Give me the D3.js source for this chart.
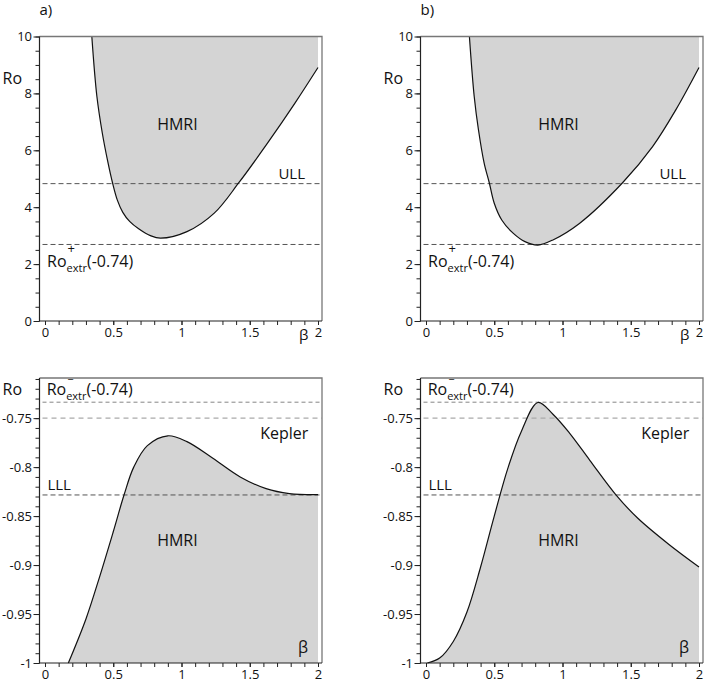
<!DOCTYPE html>
<html>
<head>
<meta charset="utf-8">
<script src="https://cdn.jsdelivr.net/npm/d3@7"></script>
<style>
  body { margin: 0; background: #fff; }
  text { font-family: "Open Sans", "Noto Sans", sans-serif; fill: #111; }
</style>
</head>
<body>
<div id="chart"></div>
<script>
// Upper panels: boundary of the HMRI region, [beta, Ro]
const upperA = [
  [0.343, 10], [0.38, 7.9], [0.42, 6.6], [0.46, 5.6], [0.495, 4.85],
  [0.53, 4.25], [0.57, 3.82], [0.62, 3.5], [0.686, 3.24], [0.772, 3.0], [0.846, 2.91],
  [1.04, 3.14], [1.24, 3.79], [1.42, 4.86], [1.63, 6.25], [1.83, 7.65], [2.0, 8.91]
];
const upperB = [
  [0.318, 10], [0.353, 7.9], [0.384, 6.73], [0.426, 5.55], [0.464, 4.85],
  [0.50, 4.14], [0.555, 3.55], [0.64, 3.08], [0.725, 2.79], [0.82, 2.67],
  [0.93, 2.85], [1.124, 3.43], [1.44, 4.86], [1.66, 6.13], [1.83, 7.42], [2.0, 8.91]
];
// Lower panels
const lowerA = [
  [0.171, -1], [0.3, -0.955], [0.4, -0.912], [0.5, -0.866], [0.58, -0.828],
  [0.65, -0.8], [0.75, -0.778], [0.9, -0.768], [1.04, -0.774], [1.23, -0.791],
  [1.43, -0.810], [1.62, -0.822], [1.79, -0.827], [2.0, -0.828]
];
const lowerB = [
  [0.01, -1], [0.1, -0.995], [0.2, -0.978], [0.3, -0.948], [0.4, -0.902],
  [0.5, -0.85], [0.6, -0.801], [0.7, -0.763], [0.82, -0.734], [0.93, -0.746],
  [1.05, -0.765], [1.2, -0.793], [1.39, -0.828], [1.55, -0.852], [1.78, -0.879],
  [2.0, -0.902]
];

// reference lines
const upperLines = [
  { value: 2 + 2 * Math.SQRT2, color: "#555", dash: "5,3", width: 1 },  // ULL
  { value: 2.69, color: "#555", dash: "5,3", width: 1 }                 // Ro+extr
];
const lowerLines = [
  { value: -0.7337, color: "#666", dash: "4,3", width: 0.8 },           // Ro-extr
  { value: -0.75, color: "#aaa", dash: "5,4", width: 1.2 },             // Kepler
  { value: 2 - 2 * Math.SQRT2, color: "#555", dash: "5,3", width: 1 }   // LLL
];

const xMajor = [0, 0.5, 1, 1.5, 2];
const xMinor = d3.range(0, 21).map(i => +(i * 0.1).toFixed(1));
const upperMajor = [0, 2, 4, 6, 8, 10];
const upperMinor = d3.range(0, 21).map(i => i * 0.5);
const lowerMajor = [-1, -0.95, -0.9, -0.85, -0.8, -0.75];
const lowerMinor = d3.range(0, 30).map(i => +(-1 + i * 0.01).toFixed(2));

const svgWidth = 706;
const svgHeight = 685;
const panelWidth = 282.5;
const fillColor = "#d4d4d4";

const svg = d3.select("#chart")
  .append("svg")
  .attr("width", svgWidth)
  .attr("height", svgHeight);

const panels = [
  { left: 39.5, top: 36.5, height: 284.5, data: upperA, upper: true, tag: "a)" },
  { left: 420.5, top: 36.5, height: 284.5, data: upperB, upper: true, tag: "b)" },
  { left: 39.5, top: 378, height: 285, data: lowerA, upper: false },
  { left: 420.5, top: 378, height: 285, data: lowerB, upper: false }
];

panels.forEach(drawPanel);

function drawPanel(p) {
  const right = p.left + panelWidth;
  const bottom = p.top + p.height;
  const x = d3.scaleLinear().domain([0, 2]).range([p.left + 5.5, p.left + 5.5 + 273]);
  const y = p.upper
    ? d3.scaleLinear().domain([0, 10]).range([bottom, p.top])
    : d3.scaleLinear().domain([-1, -0.709]).range([bottom, p.top]);
  const g = svg.append("g");

  // shaded HMRI region
  const area = d3.area()
    .x(d => x(d[0]))
    .y0(p.upper ? y(10) : y(-1))
    .y1(d => y(d[1]))
    .curve(d3.curveCatmullRom.alpha(0.5));
  g.append("path")
    .datum(p.data)
    .attr("d", area)
    .attr("fill", fillColor);

  // dashed reference lines
  const lines = p.upper ? upperLines : lowerLines;
  g.selectAll(".ref")
    .data(lines)
    .enter()
    .append("line")
    .attr("x1", p.left + 3)
    .attr("x2", right)
    .attr("y1", d => y(d.value))
    .attr("y2", d => y(d.value))
    .attr("stroke", d => d.color)
    .attr("stroke-width", d => d.width)
    .attr("stroke-dasharray", d => d.dash);

  // boundary curve
  const line = d3.line()
    .x(d => x(d[0]))
    .y(d => y(d[1]))
    .curve(d3.curveCatmullRom.alpha(0.5));
  g.append("path")
    .datum(p.data)
    .attr("d", line)
    .attr("fill", "none")
    .attr("stroke", "#111")
    .attr("stroke-width", 1.2);

  // frame: top and right in grey
  g.append("path")
    .attr("d", `M${p.left},${p.top}H${right}V${bottom}`)
    .attr("fill", "none")
    .attr("stroke", "#777")
    .attr("stroke-width", 1.3);

  // axes
  const yMajor = p.upper ? upperMajor : lowerMajor;
  const yMinor = p.upper ? upperMinor : lowerMinor;

  const yAxisMinor = g.append("g")
    .attr("transform", `translate(${p.left},0)`)
    .call(d3.axisLeft(y).tickValues(yMinor).tickSize(4).tickFormat(""));
  const yAxis = g.append("g")
    .attr("transform", `translate(${p.left},0)`)
    .call(d3.axisLeft(y).tickValues(yMajor).tickSize(6).tickPadding(1.5).tickFormat(d => String(d)));

  const xAxisMinor = g.append("g")
    .attr("transform", `translate(0,${bottom})`)
    .call(d3.axisBottom(x).tickValues(xMinor).tickSize(4).tickFormat(""));
  const xAxis = g.append("g")
    .attr("transform", `translate(0,${bottom})`)
    .call(d3.axisBottom(x).tickValues(xMajor).tickSize(4).tickPadding(2.5).tickFormat(d => String(d)));

  [yAxisMinor, yAxis, xAxisMinor, xAxis].forEach(a => {
    a.select(".domain").remove();
    a.selectAll("line").attr("stroke", "#222");
    a.selectAll("text")
      .attr("font-family", "Open Sans, Noto Sans, sans-serif")
      .attr("font-size", 13)
      .attr("fill", "#111");
  });

  // left and bottom axis lines
  g.append("path")
    .attr("d", `M${p.left},${p.top}V${bottom}H${right}`)
    .attr("fill", "none")
    .attr("stroke", "#222")
    .attr("stroke-width", 1.2);

  // labels
  if (p.tag) {
    g.append("text")
      .attr("x", p.left)
      .attr("y", 15)
      .attr("font-size", 15)
      .text(p.tag);
  }

  if (p.upper) {
    g.append("text")
      .attr("x", p.left - 37)
      .attr("y", 84)
      .attr("font-size", 16)
      .text("Ro");
    g.append("text")
      .attr("x", x(1.895))
      .attr("y", bottom + 19)
      .attr("text-anchor", "middle")
      .attr("font-size", 15)
      .text("β");
    g.append("text")
      .attr("x", x(0.97))
      .attr("y", y(6.72))
      .attr("text-anchor", "middle")
      .attr("font-size", 16)
      .text("HMRI");
    g.append("text")
      .attr("x", x(1.71))
      .attr("y", y(5.0))
      .attr("font-size", 15)
      .text("ULL");
    extrLabel(g, x(0.015), y(1.9), "+");
  } else {
    g.append("text")
      .attr("x", p.left - 37)
      .attr("y", p.top + 17)
      .attr("font-size", 16)
      .text("Ro");
    g.append("text")
      .attr("x", x(1.89))
      .attr("y", bottom - 10)
      .attr("text-anchor", "middle")
      .attr("font-size", 16)
      .text("β");
    g.append("text")
      .attr("x", x(0.97))
      .attr("y", y(-0.881))
      .attr("text-anchor", "middle")
      .attr("font-size", 16)
      .text("HMRI");
    g.append("text")
      .attr("x", x(1.577))
      .attr("y", y(-0.7708))
      .attr("font-size", 16)
      .text("Kepler");
    g.append("text")
      .attr("x", x(0.018))
      .attr("y", y(-0.8234))
      .attr("font-size", 15)
      .text("LLL");
    extrLabel(g, x(0.012), y(-0.726), "−");
  }
}

// Ro with superscript sign stacked over subscript "extr", then "(-0.74)"
function extrLabel(g, x0, y0, sign) {
  const t = g.append("text")
    .attr("x", x0)
    .attr("y", y0)
    .attr("font-size", 16);
  const ro = t.append("tspan").text("Ro");
  const roWidth = ro.node().getComputedTextLength();
  const up = sign === "+" ? 14 : 11.5;
  t.append("tspan")
    .attr("font-size", sign === "+" ? 13 : 11)
    .attr("dx", 1)
    .attr("dy", -up)
    .text(sign);
  t.append("tspan")
    .attr("x", x0 + roWidth)
    .attr("dy", up + 5)
    .attr("font-size", 11)
    .text("extr");
  t.append("tspan").attr("dy", -5).text("(-0.74)");
}
</script>
</body>
</html>
